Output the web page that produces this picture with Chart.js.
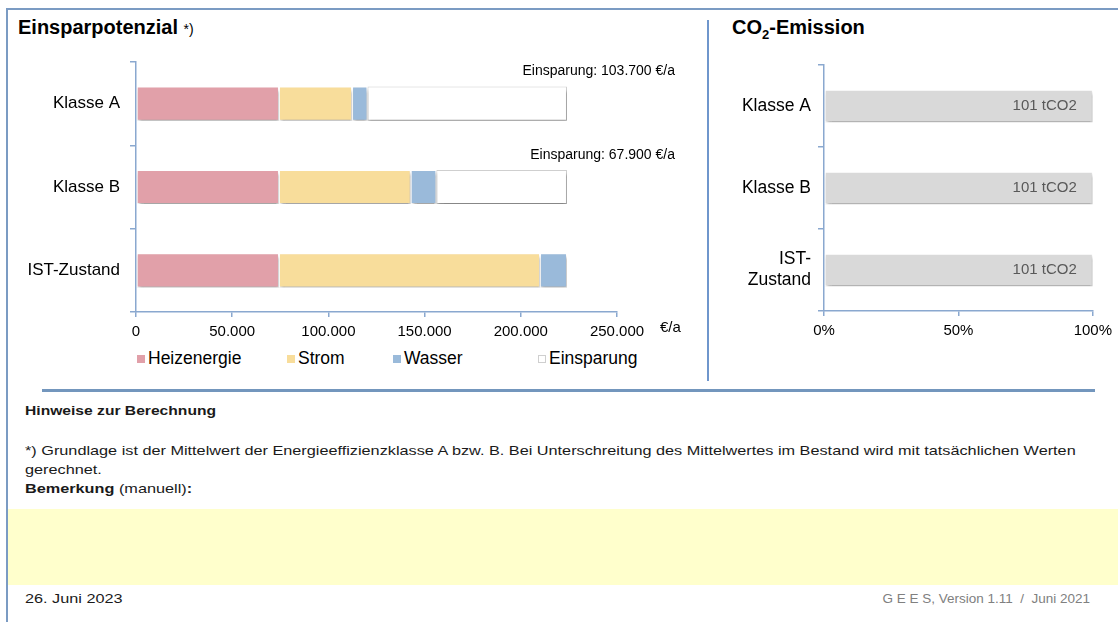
<!DOCTYPE html>
<html lang="de">
<head>
<meta charset="utf-8">
<title>Einsparpotenzial</title>
<script src="https://cdn.jsdelivr.net/npm/chart.js@4/dist/chart.umd.min.js"></script>
<style>
  html, body { margin: 0; padding: 0; background: #fff; }
  body { width: 1118px; height: 622px; position: relative; overflow: hidden;
         font-family: "Liberation Sans", Arial, sans-serif; color: #000; }
  .abs { position: absolute; }
  #frameTop { left: 6px; top: 8px; width: 1112px; height: 2px; background: #7b9bc3; }
  #frameLeft { left: 6px; top: 8px; width: 2px; height: 614px; background: #7b9bc3; }
  #divider { left: 707px; top: 20px; width: 2px; height: 361px; background: #6f96cc; }
  #sep { left: 42px; top: 389px; width: 1053px; height: 3px; background: #7396bd; }
  .title { font-weight: bold; font-size: 20px; white-space: nowrap; }
  .title small { font-weight: normal; font-size: 14px; }
  #legend { left: 0; top: 348px; height: 20px; font-size: 17.5px; }
  .lg { position: absolute; white-space: nowrap; line-height: 20px; }
  .lg i { display: inline-block; width: 8px; height: 8px; margin-right: 3px; vertical-align: 1px; box-sizing: border-box; }
  .note { font-size: 13px; color: #1a1a1a; white-space: nowrap; transform: scaleX(1.25); transform-origin: 0 0; }
  .foot { line-height: 19px; }
  #yellow { left: 8px; top: 509px; width: 1110px; height: 76px; background: #ffffcc; }
  canvas { position: absolute; }
</style>
</head>
<body>
<div id="frameTop" class="abs"></div>
<div id="frameLeft" class="abs"></div>
<div id="divider" class="abs"></div>
<div id="sep" class="abs"></div>

<div class="abs title" style="left:18px; top:16px;">Einsparpotenzial <small>*)</small></div>
<div class="abs title" style="left:732px; top:16px;">CO<sub style="font-size:13px;">2</sub>-Emission</div>

<div style="position:absolute; left:0; top:0; width:705px; height:345px;"><canvas id="costChart"></canvas></div>
<div style="position:absolute; left:710px; top:0; width:408px; height:345px;"><canvas id="co2Chart"></canvas></div>

<div id="legend" class="abs"></div>

<div class="abs note" style="left:25px; top:404px; font-weight:bold; font-size:12.5px;">Hinweise zur Berechnung</div>
<div class="abs note foot" style="left:25px; top:441px;">*) Grundlage ist der Mittelwert der Energieeffizienzklasse A bzw. B. Bei Unterschreitung des Mittelwertes im Bestand wird mit tatsächlichen Werten<br>gerechnet.</div>
<div class="abs note" style="left:25px; top:481px;"><b>Bemerkung</b> (manuell)<b>:</b></div>
<div id="yellow" class="abs"></div>
<div class="abs note" style="left:25px; top:591px;">26. Juni 2023</div>
<div class="abs" style="right:28px; top:591px; font-size:13.5px; white-space:nowrap; color:#808080;">G E E S, Version 1.11 &nbsp;/ &nbsp;Juni 2021</div>

<script>
// categories
const categories = ['Klasse A', 'Klasse B', 'IST-Zustand'];
const co2Categories = ['Klasse A', 'Klasse B', ['IST-', 'Zustand']];

// costs in EUR per year
const heizenergie = [74300, 74300, 74300];
const strom = [38000, 68500, 135700];
const wasser = [8000, 13300, 14000];
const einsparung = [103700, 67900, 0];

// CO2 emission
const co2Share = [100, 100, 100];
const co2Tonnes = [101, 101, 101];

const seriesNames = ['Heizenergie', 'Strom', 'Wasser', 'Einsparung'];
const seriesColors = ['#e1a0a9', '#f8dd9b', '#9abada', '#ffffff'];
const seriesBorders = ['#ffffff', '#ffffff', '#ffffff', '#cfcfcf'];

const axisColor = '#8aa8cf';
const font = 'Liberation Sans';

function fmt(v) {
    return String(v).replace(/\B(?=(\d{3})+(?!\d))/g, '.');
}

// drop shadow under bars + data labels
function barExtras(labelFn) {
    return {
        id: 'barExtras',
        beforeDatasetsDraw(chart) {
            const ctx = chart.ctx;
            ctx.save();
            ctx.shadowColor = 'rgba(0,0,0,0.35)';
            ctx.shadowOffsetX = 1;
            ctx.shadowOffsetY = 3;
            ctx.shadowBlur = 3;
        },
        afterDatasetsDraw(chart) {
            chart.ctx.restore();
            labelFn(chart);
        }
    };
}

const costLabels = barExtras(chart => {
    const ctx = chart.ctx;
    const meta = chart.getDatasetMeta(3);
    ctx.save();
    ctx.font = '14px "' + font + '"';
    ctx.fillStyle = '#000';
    ctx.textAlign = 'right';
    ctx.textBaseline = 'middle';
    einsparung.forEach((v, i) => {
        if (!v) return;
        const bar = meta.data[i];
        ctx.fillText('Einsparung: ' + fmt(v) + ' €/a', chart.chartArea.right + 58, bar.y - bar.height / 2 - 15);
    });
    ctx.font = '15px "' + font + '"';
    ctx.textAlign = 'left';
    ctx.fillText('€/a', chart.chartArea.right + 43, chart.chartArea.bottom + 16);
    ctx.restore();
});

const co2Labels = barExtras(chart => {
    const ctx = chart.ctx;
    const meta = chart.getDatasetMeta(0);
    ctx.save();
    ctx.font = '15px "' + font + '"';
    ctx.fillStyle = '#595959';
    ctx.textAlign = 'right';
    ctx.textBaseline = 'middle';
    co2Tonnes.forEach((t, i) => {
        const bar = meta.data[i];
        ctx.fillText(t + ' tCO2', bar.x - 16, bar.y);
    });
    ctx.restore();
});

function axisOpts(extra) {
    return Object.assign({
        border: { display: true, color: axisColor, width: 1.5 },
        grid: { drawOnChartArea: false, drawTicks: true, color: axisColor, lineWidth: 1.5 }
    }, extra);
}

new Chart(document.getElementById('costChart'), {
    type: 'bar',
    data: {
        labels: categories,
        datasets: [heizenergie, strom, wasser, einsparung].map((d, i) => ({
            label: seriesNames[i],
            data: d,
            backgroundColor: seriesColors[i],
            borderColor: seriesBorders[i],
            borderWidth: 1,
            borderSkipped: false,
            categoryPercentage: 0.82,
            barPercentage: 0.5
        }))
    },
    options: {
        indexAxis: 'y',
        responsive: true,
        maintainAspectRatio: false,
        animation: false,
        layout: { padding: { left: 0, right: 88, top: 62, bottom: 0 } },
        plugins: { legend: { display: false }, tooltip: { enabled: false } },
        scales: {
            x: axisOpts({
                stacked: true,
                min: 0,
                max: 250000,
                afterFit(s) { s.height = 33; },
                grid: { drawOnChartArea: false, color: axisColor, lineWidth: 1.5, tickLength: 5 },
                ticks: { stepSize: 50000, padding: 6, color: '#000', font: { family: font, size: 15 }, callback: v => fmt(v) }
            }),
            y: axisOpts({
                stacked: true,
                afterFit(s) { s.width = 136; },
                grid: { drawOnChartArea: false, color: axisColor, lineWidth: 1.5, tickLength: 6 },
                ticks: { padding: 10, color: '#000', font: { family: font, size: 17 } }
            })
        }
    },
    plugins: [costLabels]
});

new Chart(document.getElementById('co2Chart'), {
    type: 'bar',
    data: {
        labels: co2Categories,
        datasets: [{
            label: 'CO2',
            data: co2Share,
            backgroundColor: '#d9d9d9',
            borderColor: '#ffffff',
            borderWidth: 1,
            borderSkipped: false,
            categoryPercentage: 0.82,
            barPercentage: 0.48
        }]
    },
    options: {
        indexAxis: 'y',
        responsive: true,
        maintainAspectRatio: false,
        animation: false,
        layout: { padding: { left: 0, right: 24, top: 65, bottom: 0 } },
        plugins: { legend: { display: false }, tooltip: { enabled: false } },
        scales: {
            x: axisOpts({
                min: 0,
                max: 100,
                afterFit(s) { s.height = 34; },
                grid: { drawOnChartArea: false, color: axisColor, lineWidth: 1.5, tickLength: 5 },
                ticks: { stepSize: 50, padding: 6, color: '#000', font: { family: font, size: 15 }, callback: v => v + '%' }
            }),
            y: axisOpts({
                afterFit(s) { s.width = 114; },
                grid: { drawOnChartArea: false, color: axisColor, lineWidth: 1.5, tickLength: 6 },
                ticks: { padding: 7, color: '#000', font: { family: font, size: 17.5 } }
            })
        }
    },
    plugins: [co2Labels]
});

// legend (positions follow the original layout)
const legendX = [137, 287, 393, 538];
const legend = document.getElementById('legend');
seriesNames.forEach((name, i) => {
    const item = document.createElement('div');
    item.className = 'lg';
    item.style.left = legendX[i] + 'px';
    const box = document.createElement('i');
    box.style.background = seriesColors[i];
    if (i === 3) box.style.border = '1px solid #cfcfcf';
    item.appendChild(box);
    item.appendChild(document.createTextNode(name));
    legend.appendChild(item);
});
</script>
</body>
</html>
